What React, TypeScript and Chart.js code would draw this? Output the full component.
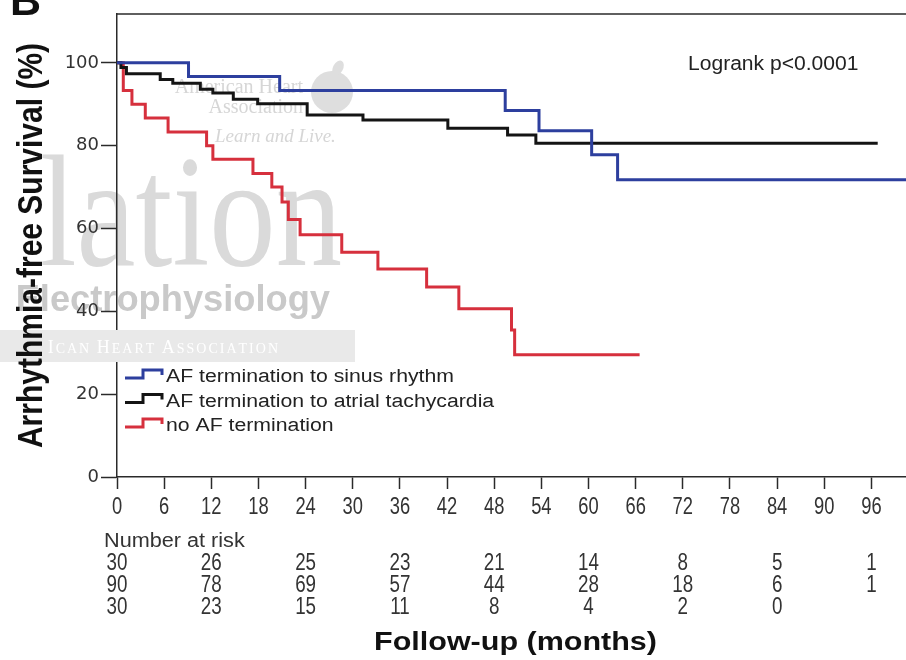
import { useEffect, useRef } from "react";
import { Chart, registerables } from "chart.js";

Chart.register(...registerables);

// ---------- data ----------
const seriesNames = [
  "AF termination to sinus rhythm",
  "AF termination to atrial tachycardia",
  "no AF termination",
];
const seriesColors = ["#2d3f9e", "#141414", "#d6303d"];

// Kaplan-Meier steps: time (months) and survival (%) after each step
const sinusT = [0, 9.1, 20.7, 49.4, 53.7, 60.4, 63.7, 100.4];
const sinusS = [100, 96.7, 93.3, 88.5, 83.6, 77.8, 71.8, 71.8];

const atrialT = [0, 0.5, 1.2, 5.5, 7.1, 10.6, 12.2, 14.8, 17.9, 24.2, 31.3, 42.1, 49.7, 53.3, 96.8];
const atrialS = [100, 98.9, 97.4, 96.0, 95.1, 93.6, 92.7, 91.2, 90.1, 87.4, 86.2, 84.2, 82.6, 80.6, 80.6];

const noTermT = [0, 0.8, 1.9, 3.6, 6.5, 11.4, 12.2, 17.3, 19.7, 21.0, 21.8, 23.3, 28.6, 33.2, 39.4, 43.5, 50.2, 50.6, 66.5];
const noTermS = [100, 93.3, 90.0, 86.7, 83.3, 80.0, 76.7, 73.3, 70.0, 66.4, 62.2, 58.5, 54.3, 50.2, 45.9, 40.6, 35.5, 29.5, 29.5];

const xTickValues = [0, 6, 12, 18, 24, 30, 36, 42, 48, 54, 60, 66, 72, 78, 84, 90, 96];
const yTickValues = [0, 20, 40, 60, 80, 100];

const riskMonths = [0, 12, 24, 36, 48, 60, 72, 84, 96];
const riskSinus = ["30", "26", "25", "23", "21", "14", "8", "5", "1"];
const riskAtrial = ["90", "78", "69", "57", "44", "28", "18", "6", "1"];
const riskNoTerm = ["30", "23", "15", "11", "8", "4", "2", "0", ""];

const xTitle = "Follow-up (months)";
const yTitle = "Arrhythmia-free Survival (%)";
const logrankText = "Logrank p<0.0001";
const riskTitle = "Number at risk";
const panelLetter = "B";

// ---------- helpers ----------
function stretchText(
  ctx: CanvasRenderingContext2D,
  text: string,
  x: number,
  y: number,
  font: string,
  sx: number,
  align: "left" | "center" | "right",
  color: string
) {
  ctx.save();
  ctx.font = font;
  ctx.fillStyle = color;
  ctx.textBaseline = "alphabetic";
  ctx.textAlign = "left";
  const w = ctx.measureText(text).width * sx;
  const left = align === "center" ? x - w / 2 : align === "right" ? x - w : x;
  ctx.translate(left, y);
  ctx.scale(sx, 1);
  ctx.fillText(text, 0, 0);
  ctx.restore();
}

function smallCapsRight(
  ctx: CanvasRenderingContext2D,
  words: string[],
  rightX: number,
  y: number,
  big: number,
  small: number,
  color: string
) {
  ctx.save();
  ctx.fillStyle = color;
  ctx.textBaseline = "alphabetic";
  const sp = 2;
  const pieces: { ch: string; size: number }[] = [];
  words.forEach((w, wi) => {
    w.split("").forEach((ch, ci) => pieces.push({ ch, size: ci === 0 ? big : small }));
    if (wi < words.length - 1) pieces.push({ ch: " ", size: small });
  });
  let total = 0;
  const widths = pieces.map((p) => {
    ctx.font = `${p.size}px "Liberation Serif", serif`;
    const w = ctx.measureText(p.ch).width + sp;
    total += w;
    return w;
  });
  let x = rightX - total;
  pieces.forEach((p, i) => {
    ctx.font = `${p.size}px "Liberation Serif", serif`;
    ctx.fillText(p.ch, x, y);
    x += widths[i];
  });
  ctx.restore();
}

const toPoints = (t: number[], s: number[]) => t.map((v, i) => ({ x: v, y: s[i] }));

// ---------- plugins ----------
const decorPlugin = {
  id: "decor",
  beforeDraw(chart: any) {
    const ctx: CanvasRenderingContext2D = chart.ctx;
    ctx.save();
    ctx.fillStyle = "#ffffff";
    ctx.fillRect(0, 0, chart.width, chart.height);
    ctx.restore();
    // faint journal watermark (under the axes)
    stretchText(ctx, "lation", 342, 265, '158px "Liberation Serif", serif', 0.84, "right", "#dadada");
    stretchText(ctx, "Electrophysiology", 330, 311, 'bold 37px "Liberation Sans", sans-serif', 0.98, "right", "#c9c9c9");
    stretchText(ctx, "American Heart", 303, 93, '20px "Liberation Serif", serif', 1, "right", "#d6d6d6");
    stretchText(ctx, "Association", 303, 113, '20px "Liberation Serif", serif', 1, "right", "#d6d6d6");
    stretchText(ctx, "Learn and Live.", 215, 142, 'italic 19px "Liberation Serif", serif', 1, "left", "#d6d6d6");
    ctx.save();
    ctx.fillStyle = "#dedede";
    ctx.beginPath();
    ctx.arc(332, 92, 21, 0, Math.PI * 2);
    ctx.fill();
    ctx.beginPath();
    ctx.ellipse(338, 68, 5, 8, 0.5, 0, Math.PI * 2);
    ctx.fill();
    ctx.restore();
  },
  beforeDatasetsDraw(chart: any) {
    const ctx: CanvasRenderingContext2D = chart.ctx;
    // watermark band lies over the axis line
    ctx.save();
    ctx.fillStyle = "#e9e9e9";
    ctx.fillRect(0, 330, 355, 32);
    ctx.restore();
    smallCapsRight(ctx, ["ICAN", "HEART", "ASSOCIATION"], 280, 353, 18, 14, "#ffffff");
  },
  afterDraw(chart: any) {
    const ctx: CanvasRenderingContext2D = chart.ctx;
    const area = chart.chartArea;
    const xs = chart.scales.x;

    // top frame line
    ctx.save();
    ctx.strokeStyle = "#2a2a2a";
    ctx.lineWidth = 1.5;
    ctx.beginPath();
    ctx.moveTo(area.left, area.top);
    ctx.lineTo(chart.width, area.top);
    ctx.stroke();
    ctx.restore();

    // x tick labels (condensed)
    xTickValues.forEach((v) => {
      const px = xs.getPixelForValue(v);
      stretchText(ctx, String(v), px, 514, '23.5px "Liberation Sans", sans-serif', 0.78, "center", "#333333");
    });

    // panel letter (cut off at the top)
    stretchText(ctx, panelLetter, 10, 15, 'bold 43px "Liberation Sans", sans-serif', 1, "left", "#111111");

    // legend
    const baseY = [382, 406.5, 431];
    seriesNames.forEach((name, i) => {
      const b = baseY[i];
      ctx.save();
      ctx.strokeStyle = seriesColors[i];
      ctx.lineWidth = 3;
      ctx.lineJoin = "miter";
      ctx.beginPath();
      ctx.moveTo(125, b - 4);
      ctx.lineTo(143, b - 4);
      ctx.lineTo(143, b - 12);
      ctx.lineTo(162, b - 12);
      ctx.lineTo(162, b - 7);
      ctx.stroke();
      ctx.restore();
      stretchText(ctx, name, 166, b, '18px "Liberation Sans", sans-serif', 1.18, "left", "#222222");
    });

    // logrank annotation
    stretchText(ctx, logrankText, 688, 70, '19.5px "Liberation Sans", sans-serif', 1.08, "left", "#222222");

    // number at risk table
    stretchText(ctx, riskTitle, 104, 547, '19.5px "Liberation Sans", sans-serif', 1.11, "left", "#333333");
    const rows = [riskSinus, riskAtrial, riskNoTerm];
    const rowBase = [570, 592, 614];
    rows.forEach((row, r) => {
      row.forEach((txt, c) => {
        if (!txt) return;
        const px = xs.getPixelForValue(riskMonths[c]);
        stretchText(ctx, txt, px, rowBase[r], '23.5px "Liberation Sans", sans-serif', 0.8, "center", "#333333");
      });
    });

    // axis titles
    stretchText(ctx, xTitle, 515.5, 650, 'bold 25px "Liberation Sans", sans-serif', 1.22, "center", "#111111");
    ctx.save();
    ctx.translate(42, (area.top + area.bottom) / 2);
    ctx.rotate(-Math.PI / 2);
    ctx.scale(1, 1.15);
    ctx.font = 'bold 30px "Liberation Sans", sans-serif';
    ctx.fillStyle = "#111111";
    ctx.textAlign = "center";
    ctx.textBaseline = "alphabetic";
    ctx.fillText(yTitle, 0, 0);
    ctx.restore();
  },
};

export default function App() {
  const canvasRef = useRef<HTMLCanvasElement | null>(null);

  useEffect(() => {
    if (!canvasRef.current) return;
    const series = [
      toPoints(sinusT, sinusS),
      toPoints(atrialT, atrialS),
      toPoints(noTermT, noTermS),
    ];
    const chart = new Chart(canvasRef.current, {
      type: "line",
      data: {
        datasets: series.map((pts, i) => ({
          label: seriesNames[i],
          data: pts,
          borderColor: seriesColors[i],
          backgroundColor: seriesColors[i],
          borderWidth: 3,
          pointRadius: 0,
          stepped: true,
          fill: false,
          borderJoinStyle: "miter" as const,
          borderCapStyle: "butt" as const,
        })),
      },
      options: {
        responsive: false,
        animation: false,
        layout: { padding: { top: 14, left: 0, right: 0, bottom: 0 } },
        plugins: {
          legend: { display: false },
          tooltip: { enabled: false },
        },
        scales: {
          x: {
            type: "linear",
            min: 0,
            max: 100.4,
            afterFit: (s: any) => {
              s.height = 183;
            },
            afterBuildTicks: (s: any) => {
              s.ticks = xTickValues.map((v) => ({ value: v }));
            },
            ticks: {
              display: false,
              autoSkip: false,
              maxRotation: 0,
            },
            grid: {
              drawOnChartArea: false,
              drawTicks: true,
              tickLength: 12,
              tickWidth: 1.5,
              tickColor: "#2a2a2a",
            },
            border: { display: true, color: "#2a2a2a", width: 1.5 },
          },
          y: {
            type: "linear",
            min: 0,
            max: 111.8,
            afterFit: (s: any) => {
              s.width = 117;
            },
            afterBuildTicks: (s: any) => {
              s.ticks = yTickValues.map((v) => ({ value: v }));
            },
            ticks: {
              padding: 2,
              color: "#333333",
              font: { family: '"DejaVu Sans", sans-serif', size: 18 },
              callback: (v: any) => String(v),
            },
            grid: {
              drawOnChartArea: false,
              drawTicks: true,
              tickLength: 16,
              tickWidth: 1.5,
              tickColor: "#2a2a2a",
            },
            border: { display: true, color: "#2a2a2a", width: 1.5 },
          },
        },
      },
      plugins: [decorPlugin],
    });
    return () => chart.destroy();
  }, []);

  return (
    <canvas
      ref={canvasRef}
      width={906}
      height={660}
      style={{ position: "absolute", left: 0, top: 0, width: 906, height: 660 }}
    />
  );
}
